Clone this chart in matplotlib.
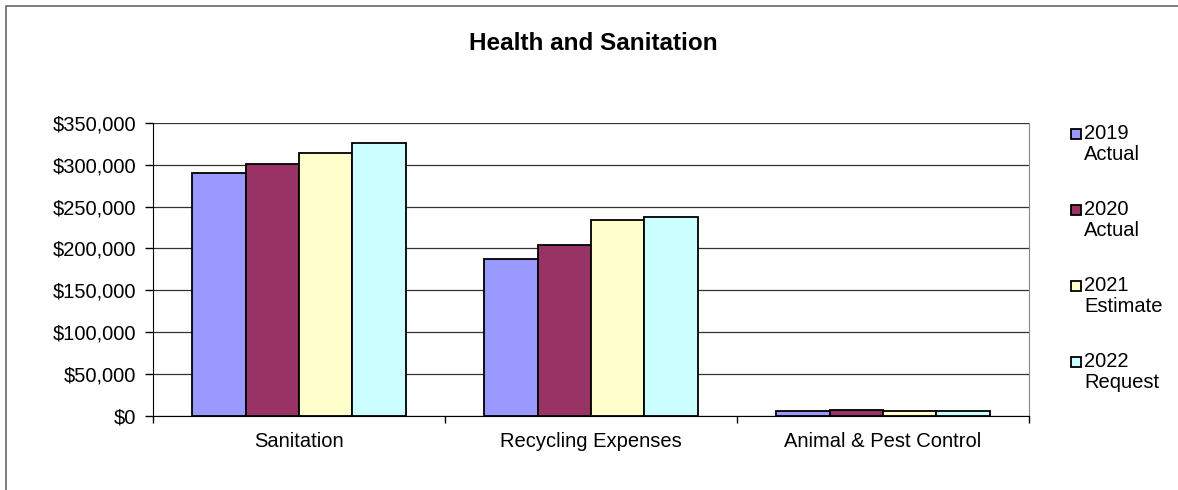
import numpy as np
import matplotlib
matplotlib.use("Agg")
from matplotlib import pyplot as plt
from matplotlib.lines import Line2D
from matplotlib.patches import Rectangle
from matplotlib.ticker import FuncFormatter, MultipleLocator

plt.rcParams['font.family'] = ['Liberation Sans', 'DejaVu Sans']

categories = ["Sanitation", "Recycling Expenses", "Animal & Pest Control"]
series = ["2019\nActual", "2020\nActual", "2021\nEstimate", "2022\nRequest"]
values_2019 = [290000, 187000, 6000]
values_2020 = [301000, 204000, 7000]
values_2021 = [314000, 233500, 5500]
values_2022 = [326000, 238000, 6000]
colors = ["#9999FF", "#993366", "#FFFFCC", "#CCFFFF"]

W, H = 1178, 490
fig = plt.figure(figsize=(W / 100, H / 100), dpi=100)
ax = fig.add_axes([153 / W, 1 - 415.7 / H, (1029 - 153) / W, (415.7 - 123) / H])

x = np.arange(len(categories))
bw = 0.1826
all_vals = [values_2019, values_2020, values_2021, values_2022]
for i, (vals, c) in enumerate(zip(all_vals, colors)):
    ax.bar(x + (i - 1.5) * bw, vals, bw, color=c, edgecolor="black",
           linewidth=1.3, zorder=3)

ax.set_xlim(-0.5, 2.5)
ax.set_ylim(0, 350000)
ax.yaxis.set_major_locator(MultipleLocator(50000))
ax.yaxis.set_major_formatter(FuncFormatter(lambda v, p: "${:,.0f}".format(v)))
ax.grid(axis="y", color="#333333", linewidth=0.9, zorder=0)

ax.set_xticks(x)
ax.set_xticklabels(categories)
ax.set_xticks([-0.5, 0.5, 1.5, 2.5], minor=True)
ax.tick_params(axis="x", which="major", length=0, labelsize=14.5, pad=12)
ax.tick_params(axis="x", which="minor", length=5, width=1, color="black")
ax.tick_params(axis="y", length=6, width=1, labelsize=14.5, pad=6)

ax.spines["top"].set_visible(False)
ax.spines["right"].set_color("#888888")
ax.spines["left"].set_color("black")
ax.spines["bottom"].set_color("black")

fig.text(593 / W, 1 - 43 / H, "Health and Sanitation", ha="center",
         va="center", fontsize=17.5, fontweight="bold")

# legend drawn by hand so the marker sits on the first text line
for i, (lab, c) in enumerate(zip(series, colors)):
    yc = 134 + 76 * i
    fig.patches.append(Rectangle((1070.5 / W, 1 - (yc + 5) / H), 10 / W, 10 / H,
                                 transform=fig.transFigure, facecolor=c,
                                 edgecolor="black", linewidth=1.3))
    fig.text(1084 / W, 1 - (yc - 10) / H, lab, ha="left", va="top",
             fontsize=14.5, linespacing=1.1)

# chart area border (only left and top edges inside the image)
fig.add_artist(Line2D([6 / W, 6 / W, 1], [0, 1 - 6 / H, 1 - 6 / H],
                      transform=fig.transFigure, color="#666666", linewidth=1.2))

fig.savefig("out.png", dpi=100)
